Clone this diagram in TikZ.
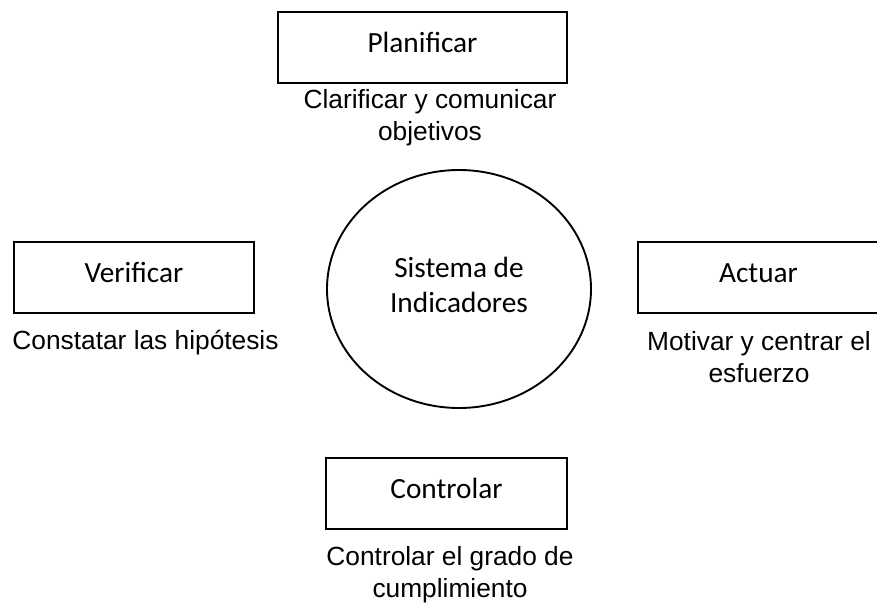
\documentclass[tikz,border=0pt]{standalone}
\usepackage{fontspec}
\setmainfont{Liberation Sans}
\newfontfamily\calfont{Carlito}
\usetikzlibrary{shapes.geometric}
\begin{document}
\begin{tikzpicture}[x=1pt,y=-1pt,
  stagebox/.style={draw, line width=1.9pt, inner sep=0pt,
    font=\calfont\fontsize{29.3}{35}\selectfont,
    minimum height=71pt, text height=20pt, text depth=11pt},
  desc/.style={align=center, inner sep=0pt, anchor=base,
    font=\fontsize{26.3}{32}\selectfont},
  hub/.style={ellipse, draw, line width=1.9pt, inner sep=0pt,
    minimum width=264pt, minimum height=238pt},
  hublbl/.style={align=center, inner sep=0pt, anchor=base,
    font=\calfont\fontsize{29.3}{35}\selectfont}
]
\useasboundingbox (0,0) rectangle (877,605);

% central system
\node[hub] (sis) at (459,289) {};
\node[hublbl] (sislbl) at (459,312) {Sistema de\\Indicadores};

% stages
\node[stagebox, minimum width=289pt] (plan) at (422.5,47.5) {Planificar};
\node[stagebox, minimum width=240pt] (verif) at (134,277.5) {Verificar};
\node[stagebox, minimum width=241pt] (act) at (758.5,277.5) {Actuar};
\node[stagebox, minimum width=241pt] (ctrl) at (446.5,493.5) {Controlar};

% descriptions
\node[desc] (plandesc) at (430,140) {Clarificar y comunicar\\objetivos};
\node[desc] (verifdesc) at (145.5,349) {Constatar las hipótesis};
\node[desc] (actdesc) at (759,382) {Motivar y centrar el\\esfuerzo};
\node[desc] (ctrldesc) at (450,597) {Controlar el grado de\\cumplimiento};
\end{tikzpicture}
\end{document}
